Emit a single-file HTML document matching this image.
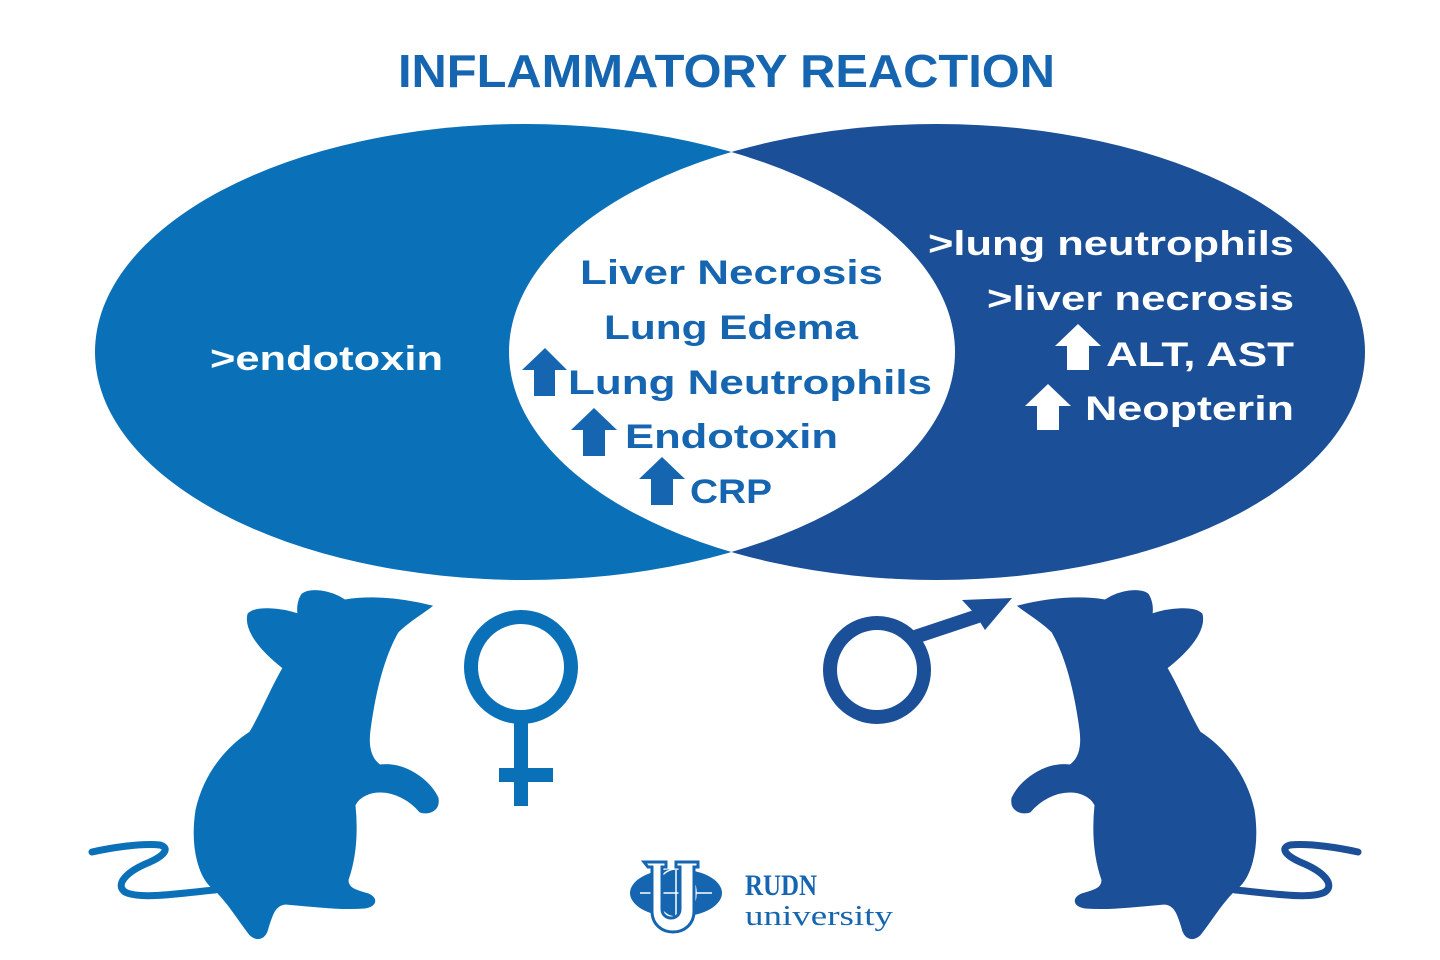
<!DOCTYPE html>
<html><head><meta charset="utf-8"><style>
html,body{margin:0;padding:0;background:#fff;}
svg{display:block;}
text{font-family:"Liberation Sans","DejaVu Sans",sans-serif;font-weight:bold;}
</style></head><body>
<svg width="1440" height="960" viewBox="0 0 1440 960" xmlns="http://www.w3.org/2000/svg">
<defs>
<clipPath id="cl"><ellipse cx="525" cy="352" rx="430" ry="228"/></clipPath>
<g id="mouse">
<path d="M432,606 C400,598 370,596 345,600 C330,590 310,588 302,594 C298,600 297,608 298,614 C280,608 255,606 248,614 C244,630 260,650 283,668 C270,690 262,712 250,732 C230,745 205,770 196,810 C190,850 200,880 215,890 C230,905 238,920 250,935 C258,942 266,938 268,928 C272,915 275,905 285,904 C310,906 340,910 365,908 C378,906 378,896 365,893 C355,890 348,888 348,880 C355,860 358,835 355,805 C360,795 372,792 380,792 C395,792 410,800 420,812 C430,815 440,810 438,798 C430,780 405,762 380,765 C370,758 368,745 370,730 C374,700 382,660 398,632 C410,620 425,612 432,606 Z"/>
<path d="M215,890 C180,893 140,900 125,892 C115,885 125,872 150,862 C165,855 170,848 160,845 C140,843 110,848 92,852" fill="none" stroke-width="7" stroke-linecap="round"/>
</g>
</defs>
<text x="398" y="87" font-size="46" fill="#1565b0" textLength="657" lengthAdjust="spacingAndGlyphs">INFLAMMATORY REACTION</text>
<ellipse cx="525" cy="352" rx="430" ry="228" fill="#0a71b8"/>
<ellipse cx="937" cy="352" rx="428" ry="228" fill="#1b4f98"/>
<ellipse cx="937" cy="352" rx="428" ry="228" fill="#fff" clip-path="url(#cl)"/>
<g fill="#1565b0" font-size="34">
<text x="580" y="284" textLength="303" lengthAdjust="spacingAndGlyphs">Liver Necrosis</text>
<text x="604" y="339" textLength="254" lengthAdjust="spacingAndGlyphs">Lung Edema</text>
<text x="568" y="394" textLength="364" lengthAdjust="spacingAndGlyphs">Lung Neutrophils</text>
<text x="625" y="448" textLength="213" lengthAdjust="spacingAndGlyphs">Endotoxin</text>
<text x="690" y="503" textLength="82" lengthAdjust="spacingAndGlyphs">CRP</text>
<path d="M545,348 L567,370 L555,370 L555,396 L534,396 L534,370 L522,370 Z"/>
<path d="M594,408 L617,430 L605,430 L605,456 L583,456 L583,430 L571,430 Z"/>
<path d="M662,457 L685,479 L673,479 L673,505 L651,505 L651,479 L639,479 Z"/>
</g>
<g fill="#fff" font-size="34">
<text x="210" y="370" textLength="233" lengthAdjust="spacingAndGlyphs">&gt;endotoxin</text>
<text x="928" y="255" textLength="366" lengthAdjust="spacingAndGlyphs">&gt;lung neutrophils</text>
<text x="987" y="310" textLength="307" lengthAdjust="spacingAndGlyphs">&gt;liver necrosis</text>
<text x="1106" y="366" textLength="188" lengthAdjust="spacingAndGlyphs">ALT, AST</text>
<text x="1085" y="420" textLength="209" lengthAdjust="spacingAndGlyphs">Neopterin</text>
<path d="M1078,324 L1101,346 L1089,346 L1089,370 L1067,370 L1067,346 L1055,346 Z"/>
<path d="M1048,384 L1071,406 L1059,406 L1059,430 L1037,430 L1037,406 L1025,406 Z"/>
</g>
<g fill="#0a71b8" stroke="#0a71b8"><use href="#mouse"/></g>
<g fill="#1b4f98" stroke="#1b4f98" transform="translate(1450,0) scale(-1,1)"><use href="#mouse"/></g>
<g stroke="#0a71b8" stroke-width="14" fill="none">
<circle cx="521" cy="667" r="50"/>
<line x1="521" y1="717" x2="521" y2="806"/>
<line x1="499" y1="775" x2="553" y2="775"/>
</g>
<g stroke="#1b4f98" stroke-width="14" fill="none">
<circle cx="877" cy="670" r="47"/>
<line x1="912" y1="638" x2="990" y2="612"/>
</g>
<path d="M1012,598 L962,600 L975,614 L985,630 Z" fill="#1b4f98"/>
<g>
<ellipse cx="676" cy="893" rx="46" ry="24" fill="#1565b0"/>
<path d="M676,870 v46 M640,893 h72" stroke="#fff" stroke-width="1.5" fill="none"/>
<ellipse cx="676" cy="893" rx="20" ry="24" stroke="#fff" stroke-width="1.5" fill="none"/>
<path d="M644,862 h22 v5 h-4 v42 c0,12 18,12 18,0 v-42 h-4 v-5 h22 v5 h-4 v44 c0,28 -42,28 -42,0 v-44 h-4 z" fill="#fff" stroke="#1565b0" stroke-width="3"/>
<text x="745" y="895" font-size="30" fill="#1565b0" textLength="72" lengthAdjust="spacingAndGlyphs" style="font-family:'Liberation Serif',serif">RUDN</text>
<text x="745" y="925" font-size="29" fill="#1565b0" textLength="148" lengthAdjust="spacingAndGlyphs" style="font-family:'Liberation Serif',serif;font-weight:normal">university</text>
</g>
</svg>
</body></html>
